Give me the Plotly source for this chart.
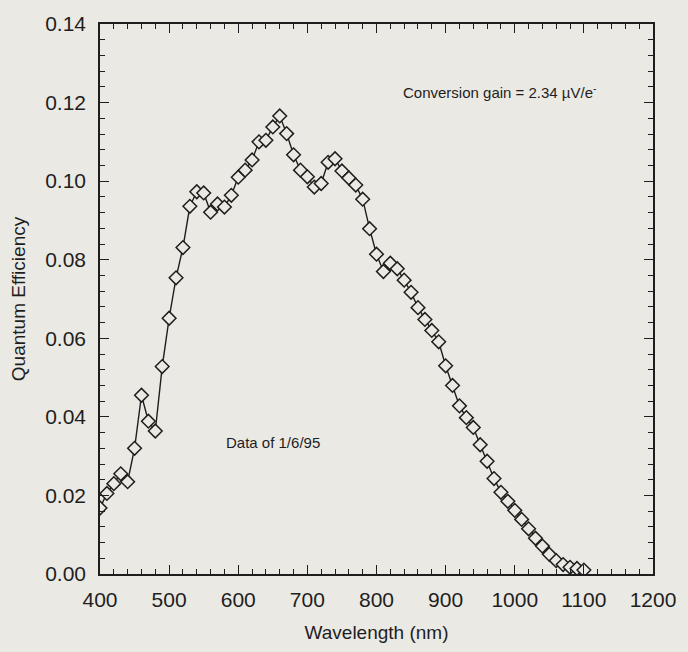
import plotly.graph_objects as go

wavelength_nm = list(range(400, 1101, 10))
quantum_efficiency = [
    0.0168, 0.0205, 0.0230, 0.0255, 0.0235, 0.0320, 0.0455, 0.0389, 0.0364, 0.0528,
    0.0651, 0.0754, 0.0831, 0.0936, 0.0973, 0.0970, 0.0921, 0.0942, 0.0934, 0.0964,
    0.1010, 0.1028, 0.1054, 0.1100, 0.1104, 0.1138, 0.1166, 0.1121, 0.1067, 0.1028,
    0.1011, 0.0985, 0.0994, 0.1048, 0.1057, 0.1026, 0.1008, 0.0990, 0.0954, 0.0879,
    0.0814, 0.0770, 0.0791, 0.0777, 0.0748, 0.0717, 0.0678, 0.0648, 0.0620, 0.0591,
    0.0530, 0.0480, 0.0428, 0.0398, 0.0373, 0.0329, 0.0287, 0.0243, 0.0208, 0.0185,
    0.0162, 0.0139, 0.0115, 0.0091, 0.0071, 0.0050, 0.0034, 0.0024, 0.0017, 0.0014,
    0.0010,
]
x_ticks = [400, 500, 600, 700, 800, 900, 1000, 1100, 1200]
y_ticks = [0.00, 0.02, 0.04, 0.06, 0.08, 0.10, 0.12, 0.14]

ink = "#1e1e1e"
paper = "#ebe9e4"
font_family = "Liberation Sans, Arial, sans-serif"

fig = go.Figure()
fig.add_trace(go.Scatter(
    x=wavelength_nm, y=quantum_efficiency,
    mode="lines+markers",
    line=dict(color=ink, width=1.4),
    marker=dict(symbol="diamond", size=10.5, color=paper,
                line=dict(color=ink, width=1.5)),
    showlegend=False,
))

axis_common = dict(
    showline=True, linecolor=ink, linewidth=1.6, mirror="ticks",
    ticks="inside", ticklen=9, tickwidth=1.4, tickcolor=ink,
    showgrid=False, zeroline=False,
    tickfont=dict(family=font_family, size=21, color=ink),
)

fig.update_xaxes(
    range=[400, 1200], tickvals=x_ticks,
    minor=dict(dtick=20, ticks="inside", ticklen=5, tickwidth=1.2, tickcolor=ink),
    title=dict(text="Wavelength (nm)", font=dict(family=font_family, size=19, color=ink),
               standoff=16),
    ticklabelstandoff=6,
    **axis_common,
)
fig.update_yaxes(
    range=[0, 0.14], tickvals=y_ticks, tickformat=".2f",
    minor=dict(dtick=0.004, ticks="inside", ticklen=5, tickwidth=1.2, tickcolor=ink),
    title=dict(text="Quantum Efficiency", font=dict(family=font_family, size=19, color=ink),
               standoff=14),
    ticklabelstandoff=8,
    **axis_common,
)

L, R, T, B = 100, 26, 21, 74
W, H = 688, 652
pw, ph = W - L - R, H - T - B


def to_paper(px, py):
    return (px - L) / pw, (H - B - py) / ph


ax, ay = to_paper(406, 89)
fig.add_annotation(x=ax, y=ay, xref="paper", yref="paper",
                   text="Conversion gain = 2.34 \u00b5V/e<sup>-</sup>",
                   showarrow=False, xanchor="left", yanchor="middle",
                   font=dict(family=font_family, size=15, color=ink))
ax, ay = to_paper(226, 445)
fig.add_annotation(x=ax, y=ay, xref="paper", yref="paper",
                   text="Data of 1/6/95",
                   showarrow=False, xanchor="left", yanchor="middle",
                   font=dict(family=font_family, size=15, color=ink))

fig.update_layout(
    width=W, height=H,
    margin=dict(l=L, r=R, t=T, b=B),
    paper_bgcolor=paper, plot_bgcolor=paper,
    font=dict(family=font_family, color=ink),
)

fig.write_html(
    "out.html",
    config={"displayModeBar": False},
    post_script=(
        "document.documentElement.style.margin='0';"
        "document.body.style.margin='0';"
        "document.body.style.padding='0';"
        "document.body.style.overflow='hidden';"
        "document.body.style.background='" + paper + "';"
    ),
)
